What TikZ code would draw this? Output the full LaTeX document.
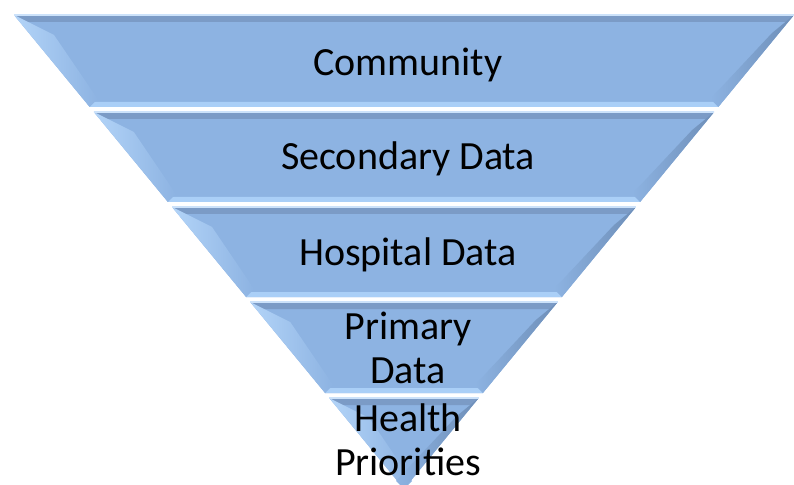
\documentclass[tikz,border=0pt]{standalone}
\usepackage{fontspec}
\setmainfont{Carlito}
\usetikzlibrary{positioning}
\definecolor{funnelblue}{HTML}{8DB3E2}
\definecolor{funneltop}{HTML}{7B9BC6}
\definecolor{funnellight}{HTML}{AACFF7}
\definecolor{funneldark}{HTML}{7A9ECC}
\tikzset{
  layerfill/.style={fill=funnelblue},
  topband/.style={fill=funneltop},
  bottomband/.style={fill=funnellight},
  leftbevel/.style={left color=funnellight!90!white, right color=funnelblue},
  rightbevel/.style={left color=funnelblue, right color=funneldark!90!black},
  layerlabel/.style={font=\fontsize{30}{32.5}\selectfont, align=center, anchor=base, inner sep=0pt}
}

\begin{document}
\begin{tikzpicture}[x=0.75pt,y=-0.75pt]
                \useasboundingbox (0,0) rectangle (794,485);
                \clip (0,0) rectangle (794,485);
                \foreach \top/\bot in {15/107, 112/202, 207/297, 302/393, 398/489} {
                    \pgfmathsetmacro{\wt}{390-0.823*(\top-15)}
                    \pgfmathsetmacro{\wb}{max(390-0.823*(\bot-15),0)}
                    \fill[layerfill] (404-\wt,\top) -- (404+\wt,\top) -- (404+\wb,\bot) -- (404-\wb,\bot) -- cycle;
                    \fill[topband] (404-\wt,\top) -- (404+\wt,\top) -- (404+\wt-7,\top+7) -- (404-\wt+7,\top+7) -- cycle;
                    \fill[bottomband] (404-\wb,\bot) -- (404+\wb,\bot) -- (404+\wb-3,\bot-5) -- (404-\wb+3,\bot-5) -- cycle;
                    \shade[leftbevel] (404-\wt,\top) -- (404-\wt+40,\top+20) -- (404-\wb+8,\bot-8) -- (404-\wb,\bot) -- cycle;
                    \shade[rightbevel] (404+\wt,\top) -- (404+\wt-22,\top+18) -- (404+\wb-8,\bot-8) -- (404+\wb,\bot) -- cycle;
                    \draw[funnellight!60!white, line width=0.8pt] (404-\wt,\top) -- (404+\wt,\top);
                }
                % the base of a two-line label is its last line
                \node[layerlabel] (community) at (408,76) {Community};
                \node[layerlabel] (secondary) at (408,170) {Secondary Data};
                \node[layerlabel] (hospital) at (408,266) {Hospital Data};
                \node[layerlabel] (primary) at (408,383) {Primary\\Data};
                \node[layerlabel] (priorities) at (408,475) {Health\\Priorities};
            \end{tikzpicture}
\end{document}
